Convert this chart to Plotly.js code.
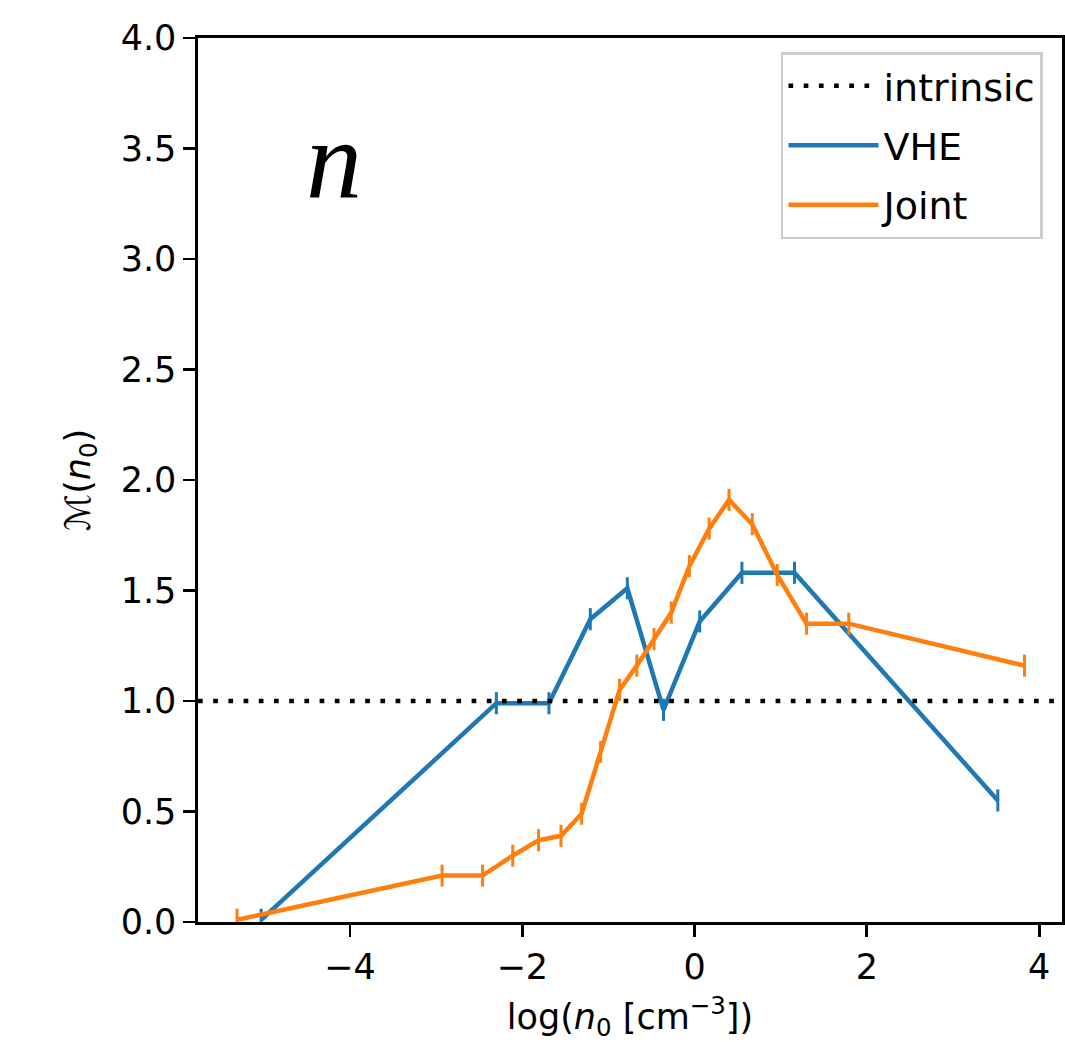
<!DOCTYPE html>
<html>
<head>
<meta charset="utf-8">
<script src="https://cdn.plot.ly/plotly-3.0.1.min.js"></script>
<style>html,body{margin:0;padding:0;background:#fff;}#chart{width:1065px;height:1042px;}</style>
</head>
<body>
<div id="chart"></div>
<script>
// Data
const vheX = [-5.03, -2.30, -1.69, -1.21, -0.78, -0.36, 0.06, 0.55, 1.16, 3.52];
const vheY = [0.01, 0.99, 0.99, 1.37, 1.51, 0.96, 1.36, 1.58, 1.58, 0.55];
const vheErr = [0.05, 0.05, 0.05, 0.05, 0.05, 0.05, 0.05, 0.05, 0.05, 0.05];

const jointX = [-5.31, -2.93, -2.46, -2.11, -1.81, -1.55, -1.31, -1.09, -0.87, -0.67, -0.47, -0.27, -0.06, 0.17, 0.40, 0.67, 0.96, 1.30, 1.79, 3.83];
const jointY = [0.01, 0.21, 0.21, 0.30, 0.37, 0.39, 0.49, 0.77, 1.05, 1.16, 1.28, 1.40, 1.61, 1.78, 1.91, 1.80, 1.57, 1.35, 1.35, 1.16];
const jointErr = [0.05, 0.05, 0.05, 0.05, 0.05, 0.05, 0.05, 0.05, 0.05, 0.05, 0.05, 0.05, 0.05, 0.05, 0.05, 0.05, 0.05, 0.05, 0.05, 0.05];

const intrinsicLevel = 1.0;
const yTickVals = [0, 0.5, 1, 1.5, 2, 2.5, 3, 3.5, 4];
const xTickVals = [-4, -2, 0, 2, 4];

const FONT = '"DejaVu Sans", sans-serif';
const BLUE = '#1f77b4', ORANGE = '#ff7f0e';

const traces = [
  {
    x: vheX, y: vheY, type: 'scatter', mode: 'lines', name: 'VHE',
    line: {color: BLUE, width: 4.5},
    error_y: {type: 'data', array: vheErr, visible: true, color: BLUE, thickness: 3, width: 0},
    legendrank: 2, legendgroup: 'b'
  },
  {
    x: jointX, y: jointY, type: 'scatter', mode: 'lines', name: 'Joint',
    line: {color: ORANGE, width: 4.5},
    error_y: {type: 'data', array: jointErr, visible: true, color: ORANGE, thickness: 3, width: 0},
    legendrank: 3, legendgroup: 'c'
  }
];

const layout = {
  width: 1065, height: 1042,
  margin: {l: 198, r: 3, t: 38, b: 120},
  paper_bgcolor: '#ffffff', plot_bgcolor: '#ffffff',
  font: {family: FONT, size: 35, color: '#000'},
  showlegend: true,
  legend: {
    x: 0.978, y: 0.984, xanchor: 'right', yanchor: 'top',
    bgcolor: 'rgba(255,255,255,0.8)', bordercolor: '#cccccc', borderwidth: 2.5,
    font: {family: FONT, size: 38, color: '#000'},
    traceorder: 'grouped', tracegroupgap: 7, itemwidth: 90
  },
  xaxis: {
    range: [-5.763, 4.265], tickvals: xTickVals, ticktext: xTickVals.map(v => v < 0 ? '\u2212' + Math.abs(v) : String(v)),
    showgrid: false, zeroline: false,
    showline: true, mirror: true, linecolor: '#000', linewidth: 2.7,
    ticks: 'outside', ticklen: 12, tickwidth: 2.7, tickcolor: '#000',
    tickfont: {family: FONT, size: 35},
    title: {text: 'log(<i>n</i><sub>0</sub> [cm<sup>\u22123</sup>])', font: {family: FONT, size: 35}, standoff: 21}
  },
  yaxis: {
    range: [0, 4], tickvals: yTickVals, ticktext: yTickVals.map(v => v.toFixed(1)),
    showgrid: false, zeroline: false,
    showline: true, mirror: true, linecolor: '#000', linewidth: 2.7,
    ticks: 'outside', ticklen: 12, tickwidth: 2.7, tickcolor: '#000',
    tickfont: {family: FONT, size: 35},
    title: {text: '\u2133(<i>n</i><sub>0</sub>)', font: {family: FONT, size: 35}, standoff: 20}
  },
  shapes: [{
    type: 'line', xref: 'paper', x0: 0, x1: 1, yref: 'y', y0: intrinsicLevel, y1: intrinsicLevel,
    line: {color: '#000', width: 4.5, dash: '4.7px,10.5px'},
    showlegend: true, name: 'intrinsic', legendrank: 1, legendgroup: 'a'
  }],
  annotations: [{
    text: '<i>n</i>', xref: 'paper', yref: 'paper', x: 0.157, y: 0.862,
    xanchor: 'center', yanchor: 'middle', showarrow: false,
    font: {family: '"Liberation Serif", "DejaVu Serif", serif', size: 112, color: '#000'}
  }]
};

Plotly.newPlot('chart', traces, layout, {displayModeBar: false, staticPlot: true});
</script>
</body>
</html>
